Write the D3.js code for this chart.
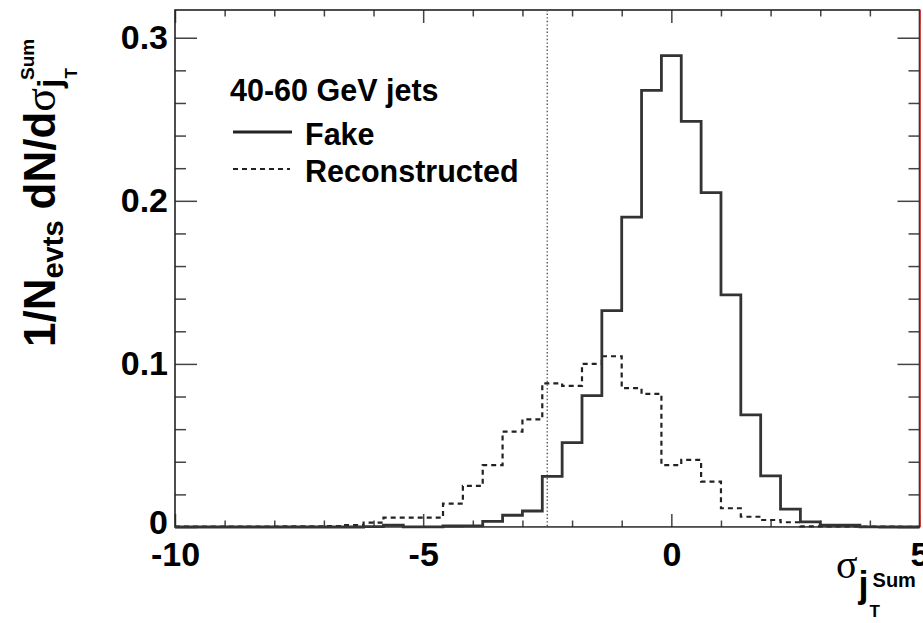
<!DOCTYPE html>
<html>
<head>
<meta charset="utf-8">
<script src="https://cdn.jsdelivr.net/npm/d3@7"></script>
<style>
  html, body { margin: 0; padding: 0; background: #ffffff; }
  svg { display: block; }
</style>
</head>
<body>
<svg id="chart" width="923" height="623"></svg>
<script>
// Bin edges of the σ histograms (0.4 wide, first bin clipped at the axis start)
const binEdges = [-10, -9.8, -9.4, -9.0, -8.6, -8.2, -7.8, -7.4, -7.0, -6.6, -6.2,
  -5.8, -5.4, -5.0, -4.6, -4.2, -3.8, -3.4, -3.0, -2.6, -2.2, -1.8, -1.4, -1.0,
  -0.6, -0.2, 0.2, 0.6, 1.0, 1.4, 1.8, 2.2, 2.6, 3.0, 3.4, 3.8, 4.2, 4.6, 5.0];

// Normalised bin contents, one per bin
const fakeValues = [0, 0, 0, 0, 0, 0, 0, 0, 0, 0, 0.0002,
  0.0012, 0.0001, 0.0001, 0.0006, 0.0007, 0.0035, 0.0072, 0.0098, 0.0310, 0.0517, 0.0805, 0.1327,
  0.1900, 0.2677, 0.2890, 0.2487, 0.2050, 0.1423, 0.0687, 0.0313, 0.0109, 0.0031, 0.0012,
  0.0012, 0.0001, 0, 0];

const recoValues = [0.0002, 0.0002, 0.0003, 0.0002, 0.0003, 0.0003, 0.0004, 0.0004, 0.0006, 0.0012, 0.0027,
  0.0057, 0.0057, 0.0057, 0.0143, 0.0252, 0.0379, 0.0585, 0.0660, 0.0881, 0.0865, 0.1000, 0.1047,
  0.0851, 0.0816, 0.0380, 0.0411, 0.0278, 0.0115, 0.0063, 0.0043, 0.0029, 0.0004, 0.0003,
  0.0003, 0.0002, 0.0002, 0.0001];

// Axis ticks
const xMajorTicks = [-10, -5, 0, 5];
const xMinorTicks = [-9, -8, -7, -6, -4, -3, -2, -1, 1, 2, 3, 4];
const yMajorTicks = [0, 0.1, 0.2, 0.3];
const yMinorTicks = [0.02, 0.04, 0.06, 0.08, 0.12, 0.14, 0.16, 0.18, 0.22, 0.24, 0.26, 0.28];
const yTickLabels = ["0", "0.1", "0.2", "0.3"];
const xTickLabels = ["-10", "-5", "0", "5"];

// Selection cut shown as a dotted vertical line
const cutValue = -2.5;

// Legend
const legendTitle = "40-60 GeV jets";
const seriesNames = ["Fake", "Reconstructed"];

const svg = d3.select("#chart");
const frameLeft = 175, frameRight = 919.5, frameTop = 10, frameBottom = 527;

const x = d3.scaleLinear().domain([-10, 5]).range([frameLeft, frameRight]);
const y = d3.scaleLinear().domain([0, 0.317]).range([frameBottom, frameTop]);

const sans = "'Liberation Sans', Arial, Helvetica, sans-serif";
const serif = "'Liberation Serif', 'Times New Roman', serif";

// ----- ticks (all pointing into the frame) -----
function styleAxis(g) {
  g.select(".domain").remove();
  g.selectAll(".tick line").attr("stroke", "#444").attr("stroke-width", 1.5);
  g.selectAll(".tick text")
    .attr("fill", "#000")
    .style("font-family", sans)
    .style("font-weight", "bold")
    .style("font-size", "34px");
}

const xMajorFmt = (d) => xTickLabels[xMajorTicks.indexOf(d)];
const yMajorFmt = (d) => yTickLabels[yMajorTicks.indexOf(d)];

svg.append("g").attr("transform", `translate(0,${frameBottom})`)
  .call(d3.axisBottom(x).tickValues(xMajorTicks).tickSize(-13).tickPadding(15).tickFormat(xMajorFmt))
  .call(styleAxis);
svg.append("g").attr("transform", `translate(0,${frameBottom})`)
  .call(d3.axisBottom(x).tickValues(xMinorTicks).tickSize(-6.5).tickFormat(""))
  .call(styleAxis);
svg.append("g").attr("transform", `translate(0,${frameTop})`)
  .call(d3.axisTop(x).tickValues(xMajorTicks).tickSize(-13).tickFormat(""))
  .call(styleAxis);
svg.append("g").attr("transform", `translate(0,${frameTop})`)
  .call(d3.axisTop(x).tickValues(xMinorTicks).tickSize(-6.5).tickFormat(""))
  .call(styleAxis);

const yLabelAxis = svg.append("g").attr("transform", `translate(${frameLeft},0)`)
  .call(d3.axisLeft(y).tickValues(yMajorTicks).tickSize(-22).tickPadding(7).tickFormat(yMajorFmt))
  .call(styleAxis);
// the zero label sits a touch higher so it clears the "-10" below it
yLabelAxis.selectAll(".tick text").filter(d => d === 0).attr("dy", "0.2em");
svg.append("g").attr("transform", `translate(${frameLeft},0)`)
  .call(d3.axisLeft(y).tickValues(yMinorTicks).tickSize(-11).tickFormat(""))
  .call(styleAxis);
svg.append("g").attr("transform", `translate(${frameRight},0)`)
  .call(d3.axisRight(y).tickValues(yMajorTicks).tickSize(-22).tickFormat(""))
  .call(styleAxis);
svg.append("g").attr("transform", `translate(${frameRight},0)`)
  .call(d3.axisRight(y).tickValues(yMinorTicks).tickSize(-11).tickFormat(""))
  .call(styleAxis);

// ----- frame -----
svg.append("rect")
  .attr("x", frameLeft).attr("y", frameTop)
  .attr("width", frameRight - frameLeft).attr("height", frameBottom - frameTop)
  .attr("fill", "none").attr("stroke", "#222").attr("stroke-width", 1.6);
svg.append("line")
  .attr("x1", frameLeft).attr("x2", frameRight).attr("y1", y(0) + 0.5).attr("y2", y(0) + 0.5)
  .attr("stroke", "#d04040").attr("stroke-width", 1.2);
svg.append("line")
  .attr("x1", frameRight + 0.8).attr("x2", frameRight + 0.8).attr("y1", frameTop).attr("y2", frameBottom)
  .attr("stroke", "#d04040").attr("stroke-width", 1.2);

// ----- cut line -----
svg.append("line")
  .attr("x1", x(cutValue)).attr("x2", x(cutValue))
  .attr("y1", y.range()[1]).attr("y2", y(0))
  .attr("stroke", "#555").attr("stroke-width", 1.4)
  .attr("stroke-dasharray", "1.4,2.2");

// ----- histograms as step outlines -----
function stepPoints(values) {
  const pts = [];
  values.forEach((v, i) => {
    pts.push([binEdges[i], v]);
    pts.push([binEdges[i + 1], v]);
  });
  return pts;
}
const line = d3.line().x(d => x(d[0])).y(d => y(d[1]));

svg.append("path")
  .attr("d", line(stepPoints(recoValues)))
  .attr("fill", "none").attr("stroke", "#222").attr("stroke-width", 2.2)
  .attr("stroke-dasharray", "5,4");
svg.append("path")
  .attr("d", line(stepPoints(fakeValues)))
  .attr("fill", "none").attr("stroke", "#333").attr("stroke-width", 2.8)
  .attr("stroke-linejoin", "miter");

// ----- legend -----
const legendFont = "30.5px";
const lg = svg.append("g");
lg.append("text").attr("x", 230).attr("y", 101).text(legendTitle)
  .style("font-family", sans).style("font-weight", "bold").style("font-size", legendFont);
const legendStyles = [{ dash: null, w: 2.8 }, { dash: "5,4", w: 2.2 }];
seriesNames.forEach((name, i) => {
  const yy = 132 + i * 37;
  lg.append("line").attr("x1", 233).attr("x2", i === 0 ? 292 : 290).attr("y1", yy).attr("y2", yy)
    .attr("stroke", "#222").attr("stroke-width", legendStyles[i].w)
    .attr("stroke-dasharray", legendStyles[i].dash);
  lg.append("text").attr("x", 305).attr("y", yy + 13).text(name)
    .style("font-family", sans).style("font-weight", "bold").style("font-size", legendFont);
});

// ----- axis titles built from pieces (sub/superscripts) -----
function richText(parent, pieces) {
  let u = 0;
  const marks = {};
  pieces.forEach(p => {
    if (p.at !== undefined) u = marks[p.at];
    u += (p.dx || 0);
    const t = parent.append("text")
      .attr("x", u).attr("y", p.dy || 0)
      .style("font-family", p.family || sans)
      .style("font-weight", p.weight || "bold")
      .style("font-size", p.size + "px")
      .attr("fill", "#000")
      .text(p.text);
    u += t.node().getComputedTextLength();
    if (p.markEnd) marks[p.markEnd] = u;
  });
}

const xTitle = svg.append("g").attr("transform", "translate(836,578)");
richText(xTitle, [
  { text: "σ", size: 40, family: serif, weight: "normal", markEnd: "s" },
  { text: "j", size: 36, dy: 19, dx: 1 },
  { text: "T", size: 17, dy: 39, dx: 1 },
  { text: "Sum", size: 20, dy: 9, at: "s", dx: 15 }
]);

const yTitle = svg.append("g").attr("transform", "translate(55,347) rotate(-90)");
richText(yTitle, [
  { text: "1/N", size: 44 },
  { text: "evts", size: 29, dy: 8 },
  { text: "dN/d", size: 44, dx: 11 },
  { text: "σ", size: 44, family: serif, weight: "normal", markEnd: "s" },
  { text: "j", size: 34, dy: 6 },
  { text: "T", size: 17, dy: 22, dx: 0 },
  { text: "Sum", size: 19, dy: -21, at: "s", dx: 8 }
]);
</script>
</body>
</html>
